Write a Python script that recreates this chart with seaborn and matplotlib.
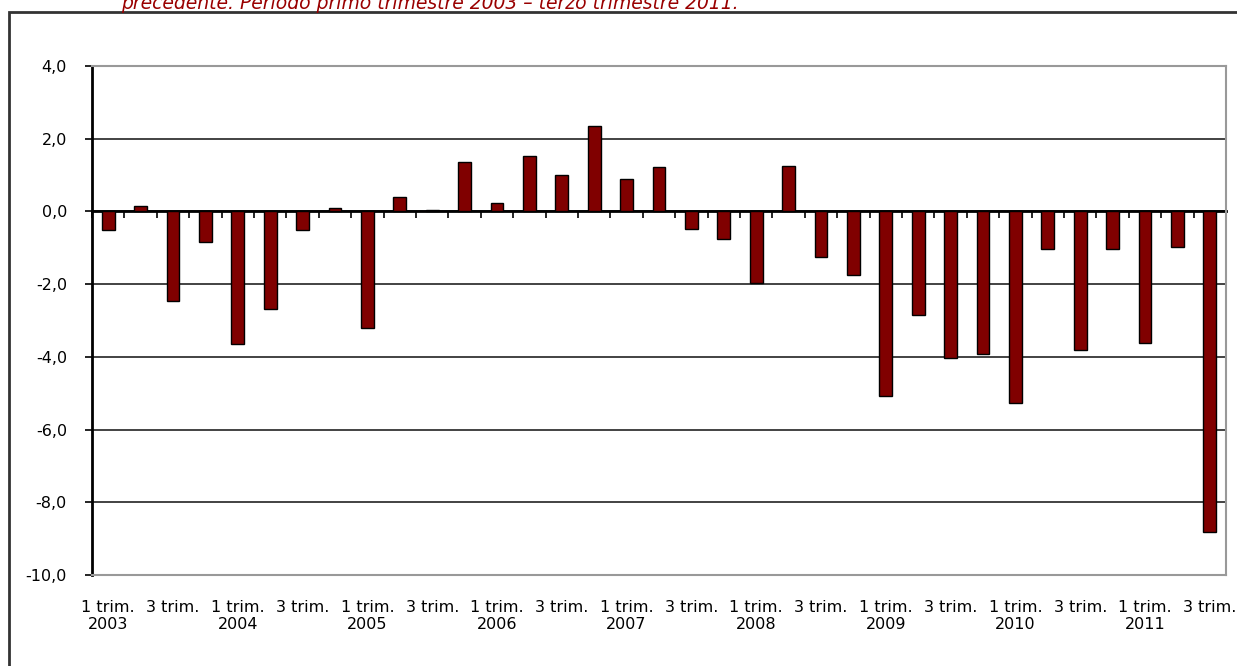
import numpy as np
import pandas as pd
import matplotlib
matplotlib.use("Agg")
import matplotlib.pyplot as plt
import seaborn as sns
from matplotlib.patches import Rectangle

# quarterly variation, 2003 Q1 - 2011 Q3
years = ["2003", "2004", "2005", "2006", "2007", "2008", "2009", "2010", "2011"]
quarters = ["1 trim.", "2 trim.", "3 trim.", "4 trim."]
values = [
    -0.50, 0.15, -2.45, -0.85,
    -3.65, -2.68, -0.50, 0.10,
    -3.20, 0.40, 0.05, 1.35,
    0.22, 1.52, 0.99, 2.36,
    0.89, 1.21, -0.49, -0.76,
    -1.98, 1.24, -1.24, -1.74,
    -5.09, -2.85, -4.02, -3.93,
    -5.26, -1.03, -3.80, -1.03,
    -3.62, -0.98, -8.82,
]
y_ticks = [4, 2, 0, -2, -4, -6, -8, -10]
title_text = "precedente. Periodo primo trimestre 2003 \u2013 terzo trimestre 2011."

periods = [f"{q} {y}" for y in years for q in quarters][:len(values)]
df = pd.DataFrame({"period": periods, "value": values})

sns.set_style("white")
plt.rcParams["font.family"] = ["DejaVu Sans"]

fig = plt.figure(figsize=(12.37, 6.66), dpi=100)
ax = fig.add_axes([92 / 1237, 1 - 575 / 666, (1226 - 92) / 1237, (575 - 66) / 666])

sns.barplot(data=df, x="period", y="value", color="#800000", saturation=1,
            width=0.4, edgecolor="black", linewidth=1.0, ax=ax)

ax.set_xlim(-0.5, len(values) - 0.5)
ax.set_ylim(-10, 4)
ax.set_xlabel("")
ax.set_ylabel("")

# y axis
ax.set_yticks(y_ticks)
ax.set_yticklabels([f"{v:.1f}".replace(".", ",") for v in y_ticks])
for v in y_ticks[1:-1]:
    ax.axhline(v, color="#222222", lw=1.2, zorder=0)
ax.tick_params(axis="y", direction="out", length=5, width=1.2, color="black",
               pad=13, labelsize=11.5, labelcolor="black", left=True)

# x labels: every other quarter, year under the 1st quarter
xlabels = []
for i, p in enumerate(periods):
    q, y = p.rsplit(" ", 1)
    if i % 4 == 0:
        xlabels.append(f"{q}\n{y}")
    elif i % 4 == 2:
        xlabels.append(q)
    else:
        xlabels.append("")
ax.set_xticks(range(len(periods)))
ax.set_xticklabels(xlabels, linespacing=1.15)
ax.tick_params(axis="x", length=0, pad=18, labelsize=11.5, labelcolor="black")

# zero axis with ticks between categories
zero_ax = ax.secondary_xaxis(0, transform=ax.transData)
zero_ax.set_xticks(np.arange(-0.5, len(values)))
zero_ax.set_xticklabels([])
zero_ax.tick_params(direction="out", length=5, width=1.2, color="black")
zero_ax.spines["bottom"].set_linewidth(2)
zero_ax.spines["bottom"].set_color("black")

for s in ["top", "right", "bottom"]:
    ax.spines[s].set_color("#999999")
    ax.spines[s].set_linewidth(1.5)
ax.spines["left"].set_color("black")
ax.spines["left"].set_linewidth(2)

# outer chart frame
fig.patches.append(Rectangle((9 / 1237, -0.1), 1.2, 1 - 12 / 666 + 0.1,
                             transform=fig.transFigure, fill=False,
                             edgecolor="#333333", lw=2))

fig.text(430 / 1237, 1 - 9 / 666, title_text, ha="center", va="baseline",
         color="#990000", style="italic", fontsize=13.5)

fig.savefig("out.png", dpi=100)
